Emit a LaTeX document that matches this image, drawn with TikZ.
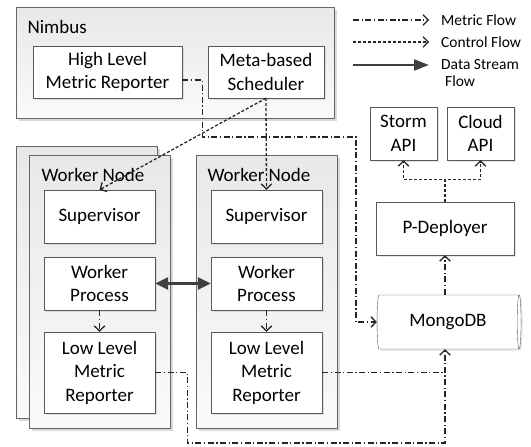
\documentclass[tikz,border=0pt]{standalone}
\usepackage{fontspec}
\setmainfont{Carlito}
\usetikzlibrary{arrows.meta,shapes.geometric,shadows}
\begin{document}
\begin{tikzpicture}[x=1pt,y=-1pt,
  font=\fontsize{19}{23.5}\selectfont,
  group/.style={draw=black!60,top color=black!9,bottom color=black!2,inner sep=0pt,
    drop shadow={shadow xshift=2.5pt,shadow yshift=-2.5pt,opacity=.3}},
  unit/.style={draw=black!65,fill=white,align=center,inner sep=0pt,
    drop shadow={shadow xshift=1.5pt,shadow yshift=-1.5pt,opacity=.2}},
  legend/.style={font=\fontsize{15.5}{17}\selectfont,inner sep=0pt,anchor=west,align=left},
  metric/.style={line width=1.3pt,black!85,dash pattern=on 6pt off 2.5pt on 1.3pt off 2.5pt,
    -{Straight Barb[length=5pt,width=10.5pt]}},
  control/.style={line width=1.3pt,black!85,dash pattern=on 3pt off 2pt,
    -{Straight Barb[length=5pt,width=10.5pt]}},
  stream/.style={line width=2.5pt,black!75}]
\useasboundingbox (0,0) rectangle (531,447);
\pgfmathsetmacro{\unitw}{111}
\pgfmathsetmacro{\unith}{53}
\pgfmathsetmacro{\apiw}{67}

\node[group,minimum width=318pt,minimum height=111pt] (nimbus) at (175,62.5) {};
\node[anchor=west] (nimbuslbl) at (24,27) {Nimbus};
\node[unit,minimum width=149pt,minimum height=52pt] (hlmr) at (107.5,72) {High Level\\Metric Reporter};
\node[unit,minimum width=116pt,minimum height=52pt] (sched) at (266,72) {Meta-based\\Scheduler};

\node[group,minimum width=141pt,minimum height=272pt] (lback) at (86.5,282) {};
\node[group,minimum width=141pt,minimum height=273pt] (lworker) at (99.5,291.5) {};
\node[group,minimum width=141pt,minimum height=273pt] (rworker) at (266.5,291.5) {};
\node[anchor=west] (lworkerlbl) at (38,175) {Worker Node};
\node[anchor=west] (rworkerlbl) at (204,175) {Worker Node};

\node[unit,minimum width=\unitw pt,minimum height=\unith pt] (lsup) at (99.5,216.5) {Supervisor};
\node[unit,minimum width=\unitw pt,minimum height=\unith pt] (lproc) at (99.5,283.5) {Worker\\Process};
\node[unit,minimum width=\unitw pt,minimum height=81pt] (llow) at (99.5,372.5) {Low Level\\Metric\\Reporter};
\node[unit,minimum width=\unitw pt,minimum height=\unith pt] (rsup) at (266.5,216.5) {Supervisor};
\node[unit,minimum width=\unitw pt,minimum height=\unith pt] (rproc) at (266.5,283.5) {Worker\\Process};
\node[unit,minimum width=\unitw pt,minimum height=81pt] (rlow) at (266.5,372.5) {Low Level\\Metric\\Reporter};

\node[unit,minimum width=\apiw pt,minimum height=\unith pt] (storm) at (403.5,133.5) {Storm\\API};
\node[unit,minimum width=\apiw pt,minimum height=\unith pt] (cloud) at (480.5,133.5) {Cloud\\API};
\node[unit,minimum width=138pt,minimum height=\unith pt] (deploy) at (445,228.5) {P-Deployer};
\node[unit,cylinder,aspect=0.25,minimum width=54pt,minimum height=144pt] (mongo) at (448,322) {MongoDB};

\node[legend] (mflbl) at (441,20) {Metric Flow};
\node[legend] (cflbl) at (441,42) {Control Flow};
\node[legend] (dslbl) at (441,73.5) {Data Stream\\\hspace{4pt}Flow};
\draw[metric] (353,20) -- ([xshift=-12pt]mflbl.west);
\draw[control] (353,42) -- ([xshift=-12pt]cflbl.west);
\draw[stream,-{Triangle[length=15pt,width=11pt]}] (353,65) -- ([xshift=-12pt,yshift=8.5pt]dslbl.west);

\coordinate (mbase) at (445,443);
\draw[control] (sched.south) -- (lsup.north);
\draw[control] (sched.south) -- (rsup.north);
\draw[metric] ([yshift=-8pt]hlmr.east) -- ++(20,0) |- (356,137) |- (mongo.west);
\draw[stream,{Triangle[length=13pt,width=12pt]}-{Triangle[length=13pt,width=12pt]}] (lproc.east) -- (rproc.west);
\draw[metric] (lproc.south) -- (llow.north);
\draw[metric] (rproc.south) -- (rlow.north);
\draw[metric] (llow.east) -- ++(32,0) |- (mbase) -- (mbase |- mongo.south);
\draw[metric,-] (rlow.east) -- (rlow.east -| mbase);
\draw[metric] (deploy.south |- mongo.north) -- (deploy.south);
\draw[control] (deploy.north) -- ++(0,-22) -| (storm.south);
\draw[control] (deploy.north) -- ++(0,-22) -| (cloud.south);
\end{tikzpicture}
\end{document}
